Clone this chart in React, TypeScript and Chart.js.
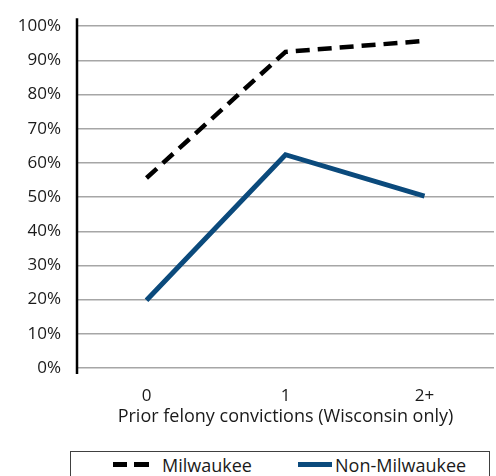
import React, { useEffect, useRef } from "react";
import { Chart, registerables } from "chart.js";

Chart.register(...registerables);

const categories = ["0", "1", "2+"];
const milwaukee = [55.6, 92.5, 95.7];
const nonMilwaukee = [19.8, 62.4, 50.3];
const yTicks = [0, 10, 20, 30, 40, 50, 60, 70, 80, 90, 100];
const xTitle = "Prior felony convictions (Wisconsin only)";
const seriesNames = ["Milwaukee", "Non-Milwaukee"];

const FONT = "'Open Sans', 'Noto Sans', sans-serif";
const TEXT = "#1a1a1a";
const BLUE = "#0b4a7c";

const axisLinePlugin = {
  id: "axisLine",
  afterDraw(chart: any) {
    const { ctx, chartArea } = chart;
    ctx.save();
    ctx.strokeStyle = "#000";
    ctx.lineWidth = 2.5;
    ctx.beginPath();
    ctx.moveTo(chartArea.left, chartArea.top - 8);
    ctx.lineTo(chartArea.left, chartArea.bottom + 6);
    ctx.stroke();
    ctx.restore();
  },
};

export default function App() {
  const ref = useRef<HTMLCanvasElement>(null);
  useEffect(() => {
    const chart = new Chart(ref.current!, {
      type: "line",
      data: {
        labels: categories,
        datasets: [
          {
            label: seriesNames[0],
            data: milwaukee,
            borderColor: "#000000",
            borderWidth: 4.5,
            borderDash: [14, 8],
            pointRadius: 0,
            fill: false,
            tension: 0,
          },
          {
            label: seriesNames[1],
            data: nonMilwaukee,
            borderColor: BLUE,
            borderWidth: 5,
            pointRadius: 0,
            fill: false,
            tension: 0,
          },
        ],
      },
      options: {
        animation: false,
        responsive: false,
        maintainAspectRatio: false,
        layout: { padding: { top: 20, right: 2, bottom: 12, left: 0 } },
        plugins: {
          legend: { display: false },
          tooltip: { enabled: false },
        },
        scales: {
          x: {
            offset: true,
            grid: { display: false },
            border: { display: false },
            ticks: { color: TEXT, font: { family: FONT, size: 17 }, padding: 10 },
            title: {
              display: true,
              text: xTitle,
              color: TEXT,
              font: { family: FONT, size: 18 },
              padding: { top: 0, bottom: 0 },
            },
            afterFit(scale: any) {
              scale.height = 60;
            },
          },
          y: {
            min: 0,
            max: 100,
            afterBuildTicks(scale: any) {
              scale.ticks = yTicks.map((v) => ({ value: v }));
            },
            grid: { color: "#a6a6a6", lineWidth: 1.5, drawTicks: false },
            border: { display: false },
            ticks: {
              color: TEXT,
              font: { family: FONT, size: 17 },
              padding: 16,
              callback: (v: any) => v + "%",
            },
            afterFit(scale: any) {
              scale.width = 77;
            },
          },
        },
      },
      plugins: [axisLinePlugin],
    });
    return () => chart.destroy();
  }, []);

  const textStyle: React.CSSProperties = {
    position: "absolute",
    top: 453,
    lineHeight: "24px",
    whiteSpace: "nowrap",
    fontFamily: FONT,
    fontSize: 18,
    color: TEXT,
  };

  return (
    <div style={{ position: "absolute", left: 0, top: 0, width: 496, height: 476, background: "#fff", overflow: "hidden" }}>
      <canvas ref={ref} width={496} height={440} style={{ position: "absolute", left: 0, top: 0 }} />
      <div
        style={{
          position: "absolute",
          left: 70,
          top: 451,
          width: 420,
          height: 40,
          border: "1.5px solid #404040",
          boxSizing: "border-box",
        }}
      />
      <div style={{ position: "absolute", left: 113, top: 462, width: 14, height: 5, background: "#000" }} />
      <div style={{ position: "absolute", left: 134, top: 462, width: 15, height: 5, background: "#000" }} />
      <div style={{ ...textStyle, left: 162 }}>{seriesNames[0]}</div>
      <div style={{ position: "absolute", left: 298, top: 462, width: 34, height: 5, background: BLUE }} />
      <div style={{ ...textStyle, left: 335 }}>{seriesNames[1]}</div>
    </div>
  );
}
